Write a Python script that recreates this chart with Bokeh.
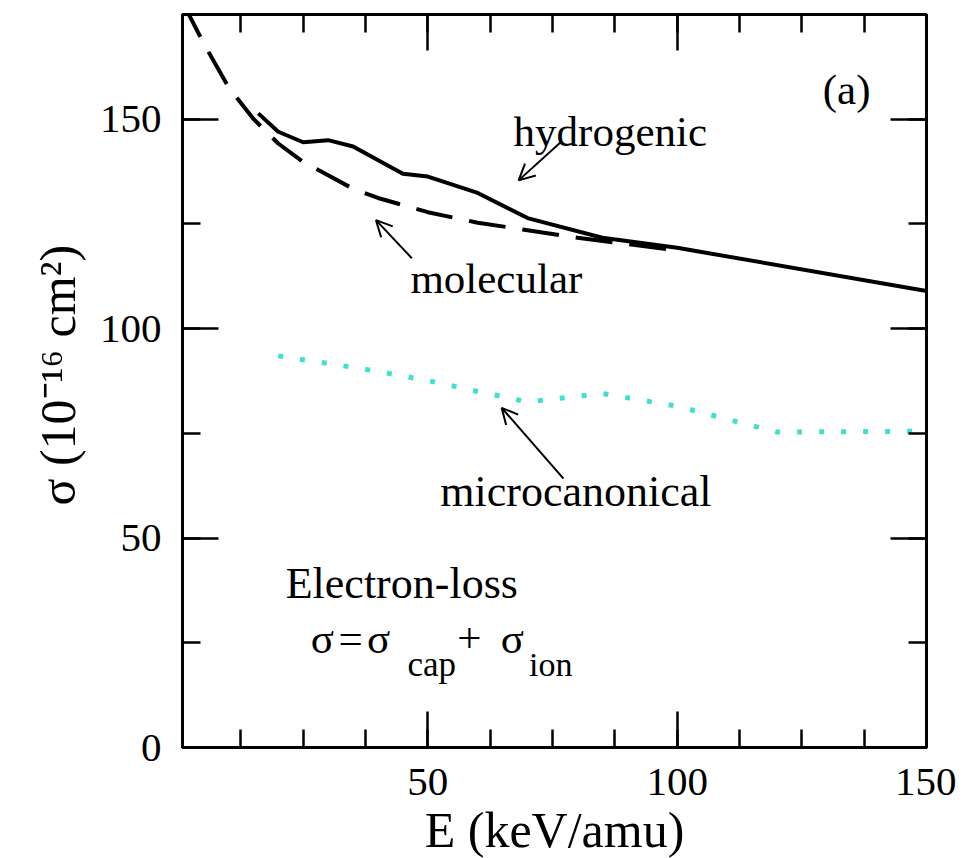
from bokeh.plotting import figure
from bokeh.models import Range1d, LinearAxis, SingleIntervalTicker, Label, Arrow, OpenHead, Title
from bokeh.embed import file_html
from bokeh.resources import INLINE

# ---- data ----
E_hyd = [16, 20, 25, 30, 35, 45, 50, 60, 70, 85, 100, 150]
sig_hyd = [151.4, 147.0, 144.5, 145.0, 143.5, 137.0, 136.3, 132.4, 126.4, 121.7, 119.3, 109.0]

E_mol = [1, 5, 10, 15, 20, 25, 30, 35, 40, 50, 60, 70, 80, 100]
sig_mol = [177.5, 168.2, 157.7, 150.1, 144.2, 139.8, 136.6, 133.4, 131.2, 127.8, 125.3, 123.5, 121.7, 118.7]

E_mic = [20, 30, 40, 50, 60, 70, 85, 100, 120, 150]
sig_mic = [93.5, 91.7, 89.8, 87.6, 85.0, 82.5, 84.5, 81.5, 75.3, 75.5]

x_ticks_interval = 50
y_ticks_interval = 50

FONT = "Liberation Serif"
NB = "\u00a0"

p = figure(frame_width=744, frame_height=733,
           x_range=Range1d(0.8, 150), y_range=Range1d(0, 175),
           output_backend="svg", toolbar_location=None,
           min_border_left=182, min_border_right=30,
           min_border_top=14, min_border_bottom=109,
           background_fill_color="white", border_fill_color="white")
p.xgrid.visible = False
p.ygrid.visible = False
p.outline_line_color = "black"
p.outline_line_width = 3


def style_axis(ax):
    ax.axis_line_width = 3
    ax.axis_line_color = "black"
    ax.major_tick_in = 36
    ax.major_tick_out = 0
    ax.minor_tick_in = 18
    ax.minor_tick_out = 0
    ax.major_tick_line_width = 2.5
    ax.minor_tick_line_width = 2.5
    ax.major_tick_line_color = "black"
    ax.minor_tick_line_color = "black"
    ax.major_label_text_font = FONT
    ax.major_label_text_font_size = "41px"
    ax.major_label_text_color = "black"


p.xaxis.ticker = SingleIntervalTicker(interval=x_ticks_interval, num_minor_ticks=4)
p.yaxis.ticker = SingleIntervalTicker(interval=y_ticks_interval, num_minor_ticks=2)
for ax in p.xaxis:
    style_axis(ax)
    ax.major_label_standoff = 21
for ax in p.yaxis:
    style_axis(ax)
    ax.major_label_standoff = 21

top = LinearAxis(ticker=SingleIntervalTicker(interval=x_ticks_interval, num_minor_ticks=4))
style_axis(top)
top.major_label_overrides = {0: "", 50: "", 100: "", 150: ""}
top.major_label_standoff = 0
p.add_layout(top, "above")

right = LinearAxis(ticker=SingleIntervalTicker(interval=y_ticks_interval, num_minor_ticks=2))
style_axis(right)
right.major_label_overrides = {0: "", 50: "", 100: "", 150: ""}
right.major_label_standoff = 0
p.add_layout(right, "right")

# ---- curves ----
p.line(E_hyd, sig_hyd, line_width=4, line_color="black", line_join="round")
p.line(E_mol, sig_mol, line_width=4, line_color="black", line_dash="37 17", line_join="round")
p.line(E_mic, sig_mic, line_width=5, line_color="#40E0D0", line_dash="5 17", line_cap="butt")

# ---- annotations ----
def lab(x, y, text, size="43px", align="left", **kw):
    p.add_layout(Label(x=x, y=y, text=text, text_font=FONT, text_font_size=size,
                       text_color="black", text_baseline="alphabetic", text_align=align, **kw))

lab(129.2, 157.2, "(a)", "43px")
lab(67.2, 147.0, "hydrogenic")
lab(46.5, 112.0, "molecular")
lab(52.5, 61.0, "microcanonical", "44px")
lab(21.5, 39.2, "Electron-loss", "44px")
lab(26.5, 26.1, "σ")
lab(32.1, 26.1, "=")
lab(37.8, 26.1, "σ")
lab(45.9, 19.7, "cap", "35px")
lab(55.9, 26.1, "+")
lab(64.6, 26.1, "σ")
lab(70.3, 19.7, "ion", "34px")

for (xs, ys, xe, ye) in [(76.8, 144.7, 68.2, 135.4),
                         (46.8, 116.8, 39.6, 125.9),
                         (77.2, 64.2, 64.8, 81.1)]:
    p.add_layout(Arrow(end=OpenHead(size=16, line_width=2, line_color="black"),
                       x_start=xs, y_start=ys, x_end=xe, y_end=ye,
                       line_width=2, line_color="black"))

# ---- axis titles ----
def title(text, side, size, align, offset, standoff=0):
    t = Title(text=text, align=align, offset=offset, standoff=standoff,
              text_font=FONT, text_font_size=size, text_font_style="normal",
              text_color="black")
    p.add_layout(t, side)

title("E (keV/amu)", "below", "50px", "center", 0, 5)
title("σ" + NB + "(10\u207b\u00b9\u2076" + NB + "cm\u00b2)", "left", "50px", "left", 242, 22)

open("out.html", "w").write(file_html(p, INLINE))
